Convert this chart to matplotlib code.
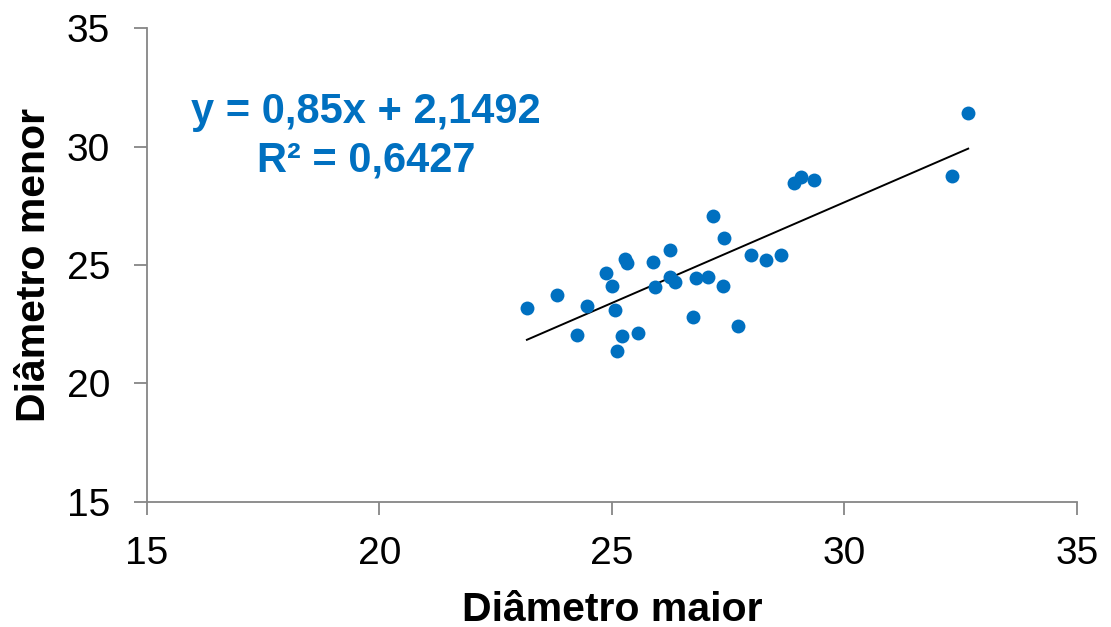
import numpy as np
import matplotlib.pyplot as plt

plt.rcParams['font.family'] = ['Liberation Sans', 'DejaVu Sans']

# Diâmetro maior (x) e Diâmetro menor (y)
diam_maior = [23.17, 23.82, 24.25, 24.46, 24.87, 25.00, 25.06, 25.11, 25.22, 25.28,
              25.32, 25.56, 25.88, 25.92, 26.25, 26.25, 26.35, 26.74, 26.81, 27.06,
              27.17, 27.41, 27.39, 27.71, 27.99, 28.31, 28.63, 28.91, 29.06, 29.34,
              32.31, 32.66]
diam_menor = [23.19, 23.73, 22.05, 23.27, 24.66, 24.11, 23.10, 21.37, 22.00, 25.25,
              25.08, 22.13, 25.13, 24.07, 25.63, 24.49, 24.28, 22.81, 24.45, 24.49,
              27.07, 26.14, 24.11, 22.43, 25.42, 25.21, 25.42, 28.46, 28.71, 28.59,
              28.76, 31.41]
slope = 0.85
intercept = 2.1492
r2_text = "0,6427"

blue = '#0070C0'

fig = plt.figure(figsize=(11.11, 6.27), dpi=100)
ax = fig.add_axes([0.1323, 0.1994, 0.8371, 0.7559])

ax.scatter(diam_maior, diam_menor, s=100, color=blue, zorder=3, linewidths=0)

xl = np.array([min(diam_maior), max(diam_maior)])
ax.plot(xl, slope * xl + intercept, color='black', lw=1.4, zorder=2)

ax.text(19.71, 31.46, "y = 0,85x + 2,1492", color=blue, fontsize=30,
        fontweight='bold', ha='center', va='center')
ax.text(19.71, 29.43, "R² = " + r2_text, color=blue, fontsize=30,
        fontweight='bold', ha='center', va='center')

ax.set_xlim(15, 35)
ax.set_ylim(15, 35)
ax.set_xticks([15, 20, 25, 30, 35])
ax.set_yticks([15, 20, 25, 30, 35])
ax.tick_params(labelsize=28, length=9.5, width=1.3, color='#868686')
ax.tick_params(axis='y', pad=17)
ax.tick_params(axis='x', pad=15)

for s in ['top', 'right']:
    ax.spines[s].set_visible(False)
for s in ['left', 'bottom']:
    ax.spines[s].set_color('#868686')
    ax.spines[s].set_linewidth(1.3)

ax.set_xlabel("Diâmetro maior", fontsize=29.5, fontweight='bold')
ax.set_ylabel("Diâmetro menor", fontsize=29.5, fontweight='bold')
ax.xaxis.set_label_coords(0.5, -0.188)
ax.yaxis.set_label_coords(-0.101, 0.5)

fig.savefig('out.png', dpi=100)
